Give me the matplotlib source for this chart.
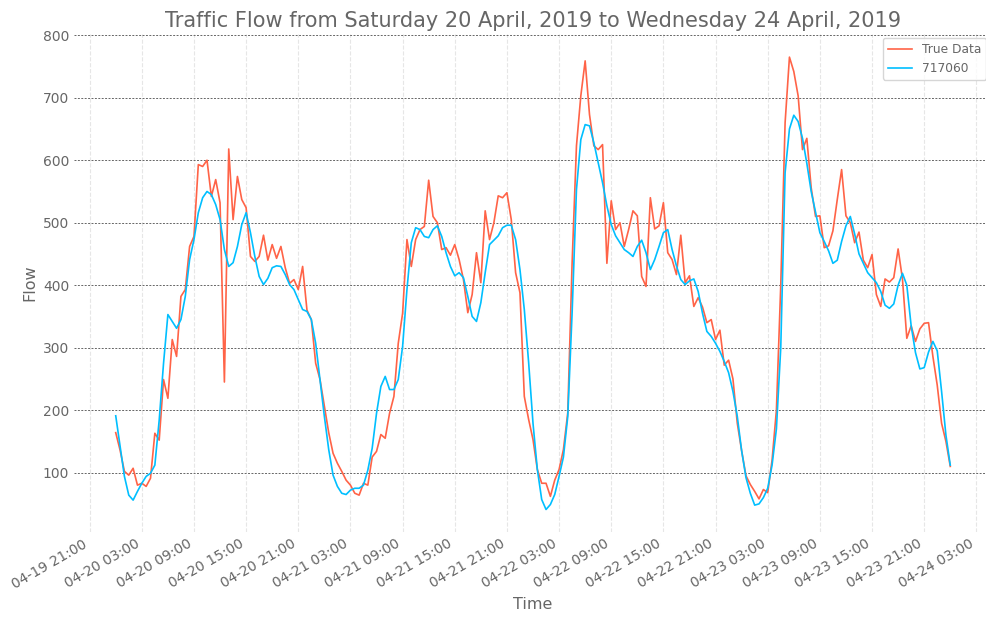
import numpy as np
import pandas as pd
import matplotlib
matplotlib.use("Agg")
import matplotlib.pyplot as plt
import matplotlib.dates as mdates

# readings every 30 min, 2019-04-20 00:00 .. 2019-04-24 00:00
start = "2019-04-20 00:00"
true_data = [
    164, 136, 102, 96, 107, 80, 83, 78, 91, 163, 152, 249,
    219, 313, 286, 382, 393, 462, 478, 593, 590, 600, 542, 569,
    532, 245, 618, 505, 574, 537, 524, 446, 438, 446, 480, 440,
    465, 443, 462, 428, 403, 409, 393, 430, 360, 345, 275, 249,
    206, 164, 131, 115, 102, 88, 80, 67, 64, 83, 80, 125,
    134, 161, 155, 195, 222, 307, 355, 473, 430, 473, 489, 494,
    568, 510, 500, 457, 460, 448, 465, 441, 409, 356, 385, 452,
    404, 519, 473, 500, 543, 540, 548, 505, 420, 388, 222, 185,
    153, 105, 83, 83, 62, 88, 105, 137, 196, 436, 623, 703,
    759, 673, 623, 617, 625, 435, 535, 489, 500, 462, 489, 519,
    511, 414, 398, 540, 490, 495, 532, 452, 441, 417, 480, 404,
    415, 366, 380, 365, 340, 345, 313, 328, 272, 280, 250, 179,
    135, 95, 81, 70, 58, 73, 68, 120, 200, 400, 660, 765,
    742, 703, 617, 635, 556, 510, 511, 460, 463, 487, 537, 585,
    511, 500, 468, 485, 440, 428, 449, 385, 366, 410, 405, 412,
    458, 410, 315, 335, 310, 330, 339, 340, 286, 240, 179, 150,
    110,
]
pred_717060 = [
    191, 142, 94, 64, 56, 70, 83, 94, 99, 112, 184, 275,
    353, 342, 331, 345, 382, 441, 473, 516, 540, 550, 545, 529,
    505, 457, 430, 436, 462, 497, 516, 484, 446, 414, 401, 411,
    428, 431, 430, 417, 401, 393, 377, 361, 358, 345, 307, 249,
    190, 137, 96, 78, 67, 65, 72, 75, 75, 80, 104, 139,
    195, 238, 254, 233, 233, 249, 302, 393, 468, 492, 489, 478,
    476, 489, 495, 478, 452, 430, 415, 420, 412, 382, 350, 342,
    372, 420, 465, 472, 479, 492, 496, 496, 473, 425, 361, 276,
    179, 105, 57, 41, 49, 65, 94, 125, 190, 356, 553, 633,
    657, 655, 628, 596, 564, 527, 497, 479, 468, 457, 452, 446,
    462, 472, 452, 425, 441, 462, 484, 489, 457, 431, 409, 401,
    407, 410, 390, 355, 326, 318, 307, 294, 278, 260, 230, 190,
    135, 92, 67, 48, 50, 60, 75, 112, 170, 300, 580, 650,
    672, 662, 635, 595, 550, 517, 484, 470, 455, 435, 440, 470,
    495, 510, 482, 450, 435, 420, 412, 404, 390, 368, 363, 370,
    400, 419, 400, 335, 292, 266, 268, 293, 310, 295, 230, 160,
    112,
]

times = pd.date_range(start, periods=len(true_data), freq="30min")
grey = "#666666"

fig = plt.figure(figsize=(9.87, 6.18), dpi=100)
ax = fig.add_axes([74 / 987, 86 / 618, 918 / 987, 498 / 618])

ax.plot(times, true_data, color="#FF6347", lw=1.2, label="True Data")
ax.plot(times, pred_717060, color="#00BFFF", lw=1.2, label="717060")

ax.set_ylim(5, 802)
ax.set_yticks([100, 200, 300, 400, 500, 600, 700, 800])
ax.xaxis.set_major_locator(mdates.HourLocator(byhour=[3, 9, 15, 21]))
ax.xaxis.set_major_formatter(mdates.DateFormatter("%m-%d %H:%M"))
ax.set_xlim(pd.Timestamp("2019-04-19 19:12"), pd.Timestamp("2019-04-24 04:48"))

for s in ax.spines.values():
    s.set_visible(False)
ax.tick_params(length=0, labelsize=10, labelcolor=grey)
ax.grid(axis="y", ls=(0, (2, 1.5)), color="#666666", lw=0.7)
ax.grid(axis="x", ls="--", color="#e6e6e6", lw=0.8)
plt.setp(ax.get_xticklabels(), rotation=30, ha="right")

ax.set_xlabel("Time", fontsize=11.5, color=grey)
ax.set_ylabel("Flow", fontsize=11.5, color=grey)
ax.set_title("Traffic Flow from Saturday 20 April, 2019 to Wednesday 24 April, 2019",
             fontsize=15, color=grey, pad=5)

leg = ax.legend(loc="upper right", bbox_to_anchor=(986 / 987, 580 / 618),
                bbox_transform=fig.transFigure, borderaxespad=0, fontsize=8.8)
leg.get_frame().set_edgecolor("#cccccc")
for t in leg.get_texts():
    t.set_color(grey)

fig.savefig("out.png", dpi=100)
